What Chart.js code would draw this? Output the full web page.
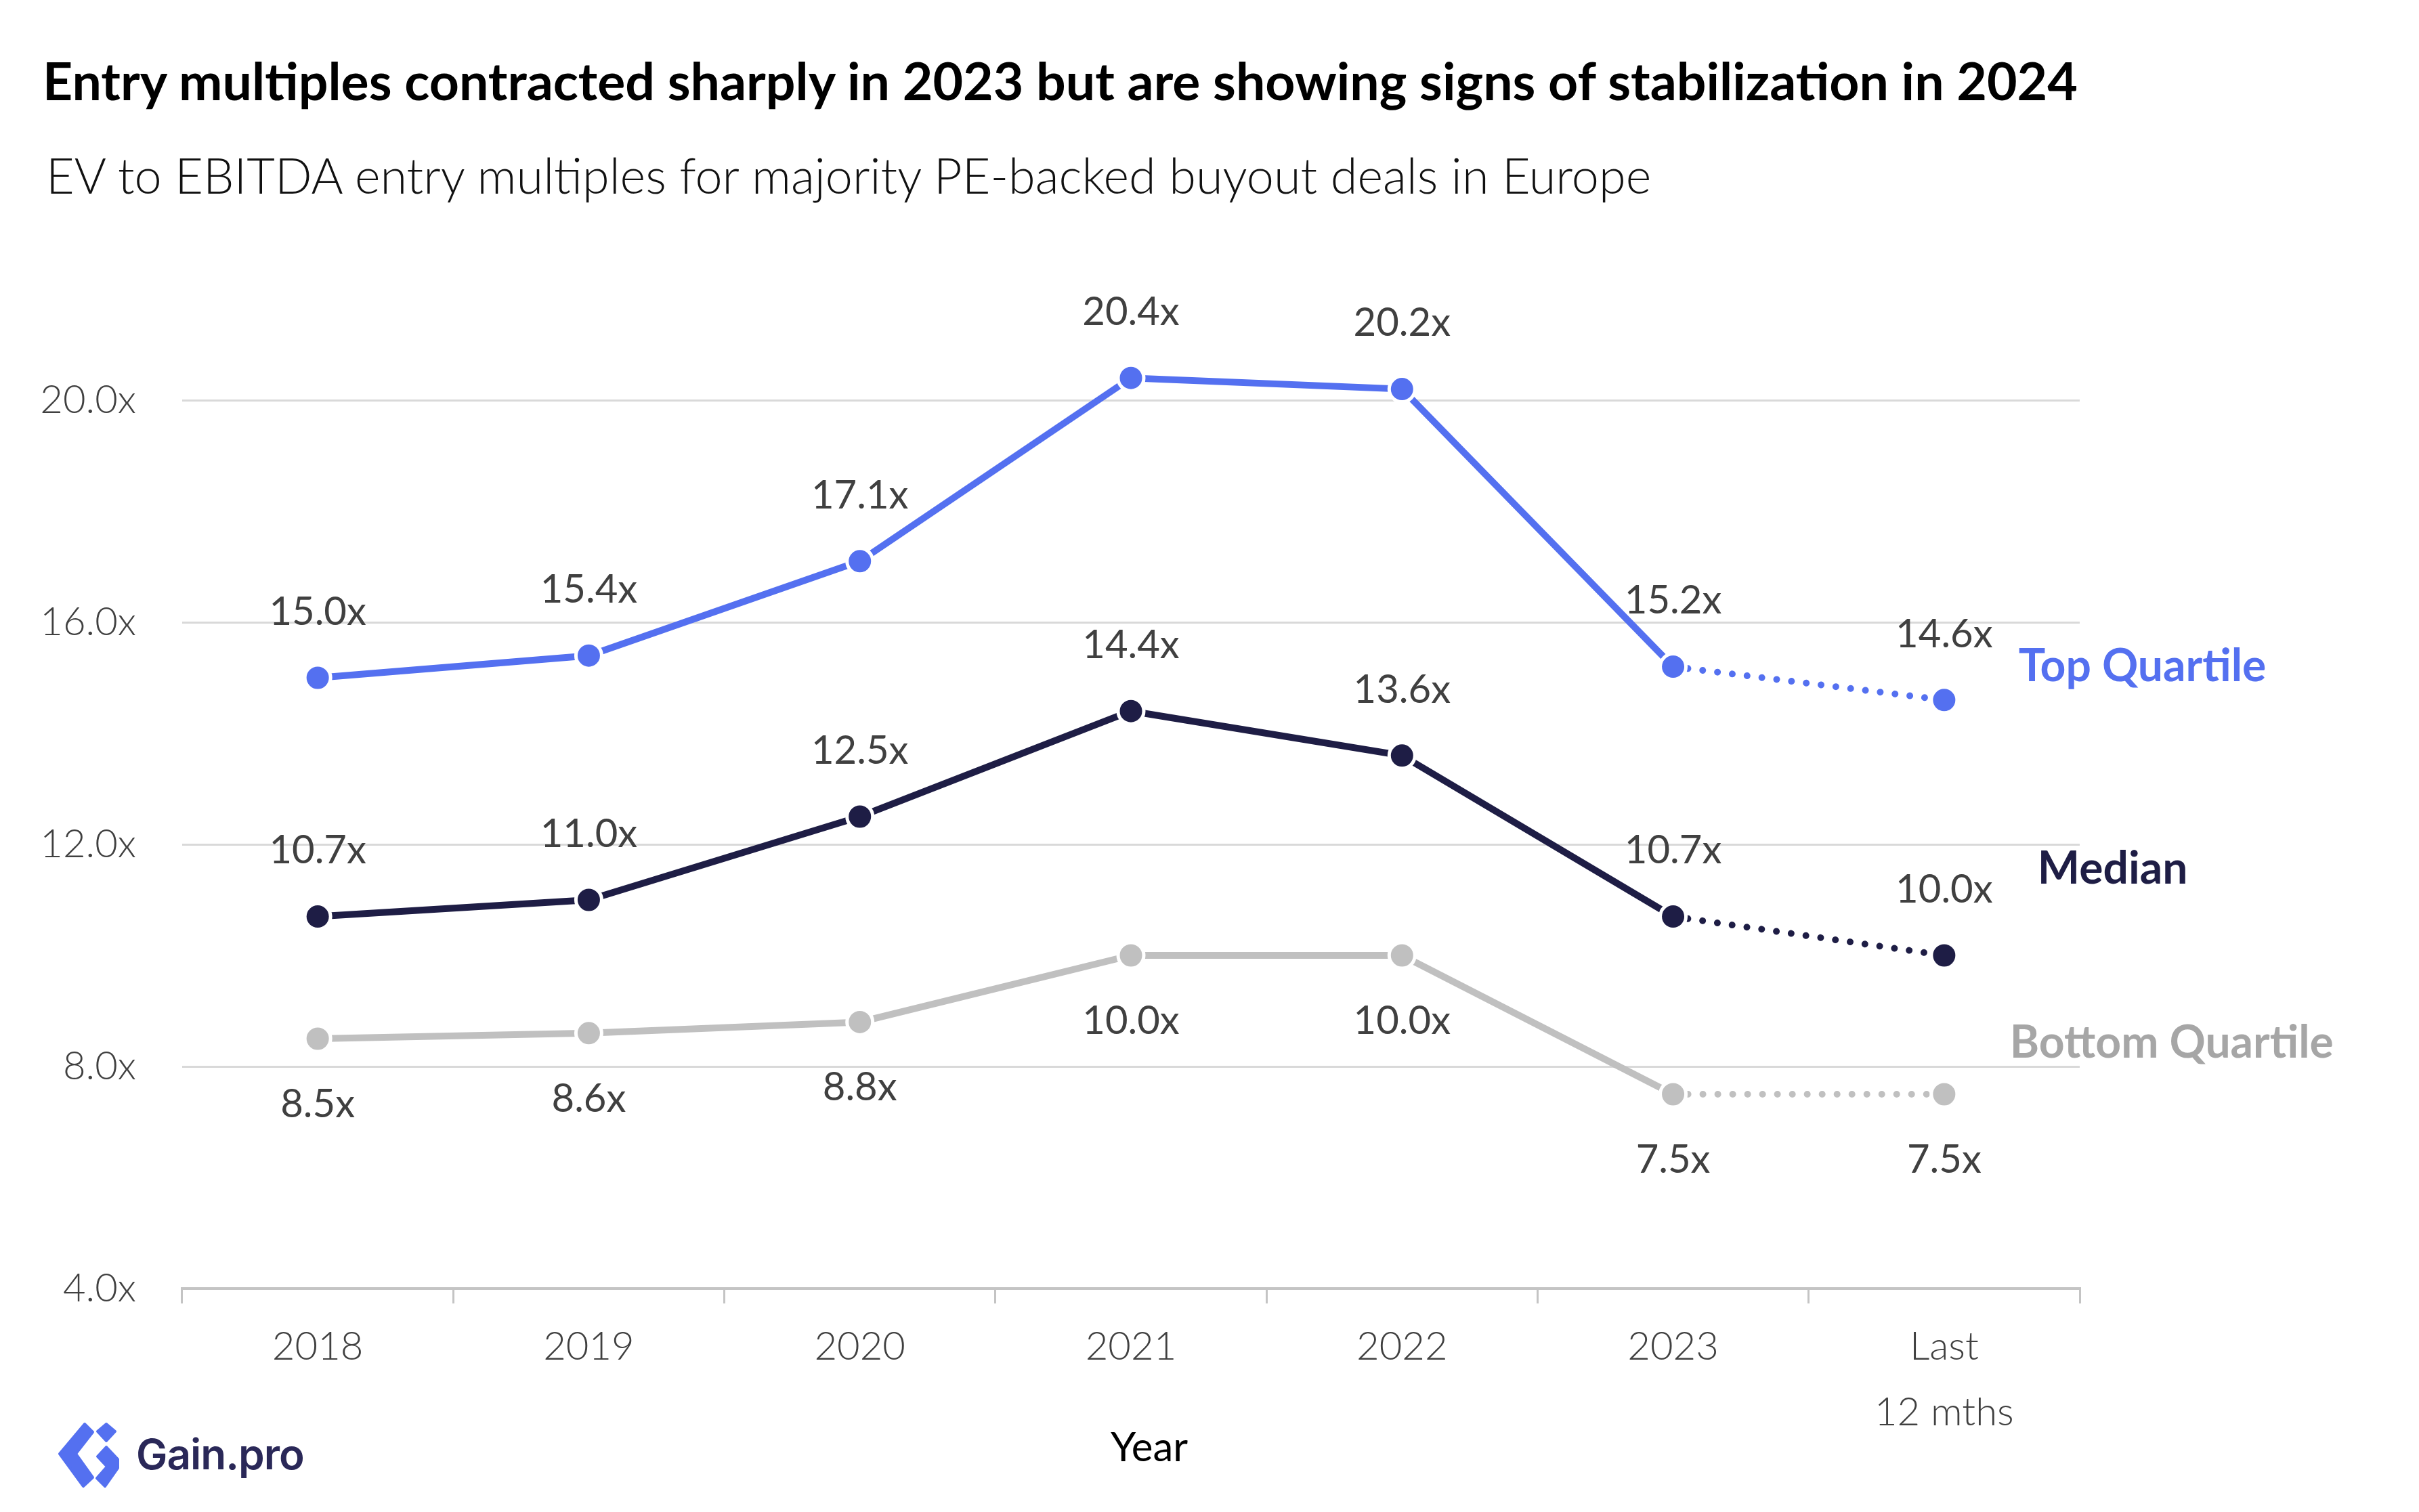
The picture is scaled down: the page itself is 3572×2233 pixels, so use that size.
<!DOCTYPE html>
<html>
<head>
<meta charset="utf-8">
<script src="https://cdn.jsdelivr.net/npm/chart.js@4.4.1/dist/chart.umd.min.js"></script>
<style>
  html, body { margin: 0; padding: 0; background: #fff; }
  #wrap { position: relative; width: 3572px; height: 2233px; overflow: hidden; font-family: Lato, sans-serif; }
  #chart { position: absolute; left: 0; top: 0; }
  .title { position: absolute; left: 63px; top: 72px; font-size: 77px; line-height: 1.2; font-weight: 700; color: #000; white-space: nowrap; }
  .subtitle { position: absolute; left: 68px; top: 215px; font-size: 72px; line-height: 1.2; font-weight: 300; color: #111; white-space: nowrap; }
  .logo { position: absolute; left: 85px; top: 2100px; height: 98px; display: flex; align-items: center; }
  .logo span { font-family: Inter, sans-serif; font-weight: 600; font-size: 62px; letter-spacing: -1px; color: #2a2858; margin-left: 24px; margin-top: -4px; }
</style>
</head>
<body>
<div id="wrap">
  <canvas id="chart" width="3572" height="2233"></canvas>
  <div class="title">Entry multiples contracted sharply in 2023 but are showing signs of stabilization in 2024</div>
  <div class="subtitle">EV to EBITDA entry multiples for majority PE-backed buyout deals in Europe</div>
  <div class="logo">
    <svg width="92" height="98" viewBox="0 0 92 98">
      <g fill="#5470f0" stroke="#5470f0" stroke-width="4" stroke-linejoin="round">
        <polygon points="40,3 52,15 27,47 52,82 38,95 3,47"/>
        <polygon points="72,3 85,14 72,28 59,14"/>
        <polygon points="72,37 89,55 89,68 70,95 58,83 73,66 59,51"/>
      </g>
    </svg>
    <span>Gain.pro</span>
  </div>
</div>
<script>
// data
const categories = ['2018', '2019', '2020', '2021', '2022', '2023', ['Last', '12 mths']];
const topQuartile = [15.0, 15.4, 17.1, 20.4, 20.2, 15.2, 14.6];
const median = [10.7, 11.0, 12.5, 14.4, 13.6, 10.7, 10.0];
const bottomQuartile = [8.5, 8.6, 8.8, 10.0, 10.0, 7.5, 7.5];
const yTicks = [4, 8, 12, 16, 20];
const xTitle = 'Year';

const dotted = ctx => ctx.p0DataIndex === 5 ? [0.01, 22] : undefined;

let makeSeries = (label, data, color, textColor, side, dx, dy) => ({
  label: label,
  data: data,
  borderColor: color,
  backgroundColor: color,
  borderWidth: 10,
  borderCapStyle: 'round',
  pointRadius: 19,
  pointBorderWidth: 5,
  pointBorderColor: '#fff',
  pointBackgroundColor: color,
  segment: { borderDash: dotted },
  labelSide: side,
  nameColor: textColor,
  nameDx: dx,
  nameDy: dy
});

// value labels, series names at the end of each line, axis title
const valueLabels = {
  id: 'valueLabels',
  afterDatasetsDraw(chart) {
    const ctx = chart.ctx;
    ctx.save();
    ctx.textBaseline = 'middle';
    chart.data.datasets.forEach((ds, i) => {
      const meta = chart.getDatasetMeta(i);
      ctx.font = '400 58px Lato';
      ctx.fillStyle = '#404040';
      ctx.textAlign = 'center';
      meta.data.forEach((pt, j) => {
        const dy = ds.labelSide === 'below' ? 97 : -97;
        ctx.fillText(ds.data[j].toFixed(1) + 'x', pt.x, pt.y + dy);
      });
      const last = meta.data[meta.data.length - 1];
      ctx.font = '700 66px Lato';
      ctx.fillStyle = ds.nameColor;
      ctx.textAlign = 'left';
      ctx.fillText(ds.label, last.x + ds.nameDx, last.y + ds.nameDy);
    });
    const area = chart.chartArea;
    ctx.font = '400 60px Lato';
    ctx.fillStyle = '#000';
    ctx.textAlign = 'center';
    ctx.fillText(xTitle, (area.left + area.right) / 2 + 27, 2139);
    ctx.restore();
  }
};

const chart = new Chart(document.getElementById('chart'), {
  type: 'line',
  data: {
    labels: categories,
    datasets: [
      makeSeries('Top Quartile', topQuartile, '#5470f0', '#5470f0', 'above', 110, -49),
      makeSeries('Median', median, '#1e1d45', '#1e1d45', 'above', 138, -127),
      makeSeries('Bottom Quartile', bottomQuartile, '#c0c0c0', '#a6a6a6', 'below', 97, -75)
    ]
  },
  options: {
    responsive: false,
    devicePixelRatio: 1,
    animation: false,
    layout: { padding: { left: 0, right: 501, top: 427, bottom: 58 } },
    plugins: {
      legend: { display: false },
      tooltip: { enabled: false },
      title: { display: false }
    },
    scales: {
      x: {
        offset: true,
        afterFit: s => { s.height = 272; },
        border: { color: '#c4c4c4', width: 4 },
        grid: { offset: true, drawOnChartArea: false, drawTicks: true, tickLength: 22, color: '#c4c4c4', lineWidth: 3 },
        ticks: {
          padding: 16, color: '#404040', maxRotation: 0, autoSkip: false,
          font: { family: 'Lato', size: 58, weight: 300, lineHeight: 1.67 }
        }
      },
      y: {
        min: 4,
        max: 22,
        afterBuildTicks: s => { s.ticks = yTicks.map(v => ({ value: v })); },
        afterFit: s => { s.width = 269; },
        border: { display: false },
        grid: { color: '#d9d9d9', lineWidth: 3, drawTicks: false },
        ticks: {
          padding: 68, color: '#404040',
          font: { family: 'Lato', size: 58, weight: 300 },
          callback: v => Number(v).toFixed(1) + 'x'
        }
      }
    }
  },
  plugins: [valueLabels]
});
</script>
</body>
</html>
